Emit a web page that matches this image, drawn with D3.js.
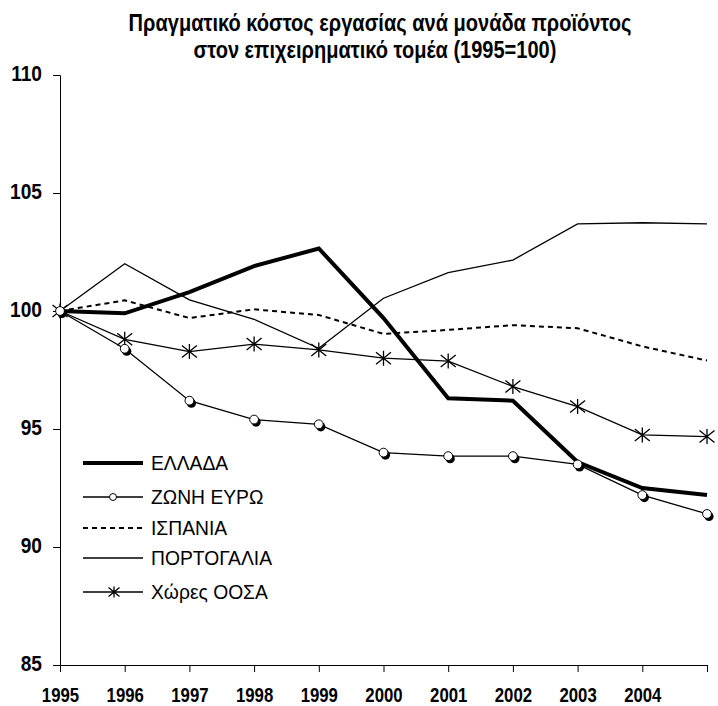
<!DOCTYPE html>
<html>
<head>
<meta charset="utf-8">
<script src="https://cdn.jsdelivr.net/npm/d3@7"></script>
<style>
  html, body { margin: 0; padding: 0; background: #fff; }
  svg { display: block; }
</style>
</head>
<body>
<div id="chart"></div>
<script>
const years = [1995, 1996, 1997, 1998, 1999, 2000, 2001, 2002, 2003, 2004, 2005];
const yearLabels = ['1995', '1996', '1997', '1998', '1999', '2000', '2001', '2002', '2003', '2004', ''];
const yTicks = [85, 90, 95, 100, 105, 110];

const greece = [100, 99.9, 100.8, 101.9, 102.65, 99.7, 96.3, 96.2, 93.6, 92.5, 92.2];
const euroArea = [100, 98.4, 96.2, 95.4, 95.2, 94.0, 93.85, 93.85, 93.5, 92.2, 91.4];
const spain = [100, 100.45, 99.7, 100.07, 99.83, 99.03, 99.2, 99.4, 99.27, 98.5, 97.9];
const portugal = [100, 102.0, 100.47, 99.65, 98.42, 100.54, 101.63, 102.16, 103.69, 103.74, 103.69];
const oecd = [100, 98.8, 98.28, 98.6, 98.35, 98.0, 97.88, 96.8, 95.95, 94.75, 94.68];

const seriesNames = ['ΕΛΛΑΔΑ', 'ΖΩΝΗ ΕΥΡΩ', 'ΙΣΠΑΝΙΑ', 'ΠΟΡΤΟΓΑΛΙΑ', 'Χώρες ΟΟΣΑ'];
const titleLines = ['Πραγματικό κόστος εργασίας ανά μονάδα προϊόντος', 'στον επιχειρηματικό τομέα (1995=100)'];

const width = 718;
const height = 706;
// no narrow font installed, so bold labels get squeezed horizontally
const bold = '"Liberation Sans", Arial, sans-serif';
const regular = '"Liberation Sans", Arial, sans-serif';

const svg = d3.select('#chart')
  .append('svg')
  .attr('width', width)
  .attr('height', height);

const x = d3.scaleLinear().domain([1995, 2005]).range([60, 707]);
const y = d3.scaleLinear().domain([85, 110]).range([665, 75]);

// Title
const titleX = [380, 375];
svg.append('g')
  .selectAll('text')
  .data(titleLines)
  .join('text')
  .attr('transform', (d, i) => `translate(${titleX[i]},${31 + i * 27}) scale(0.86,1)`)
  .attr('text-anchor', 'middle')
  .attr('font-family', bold)
  .attr('font-weight', 700)
  .attr('font-size', 23.3)
  .attr('fill', '#000')
  .text(d => d);

// Axes
const yAxis = svg.append('g')
  .attr('transform', `translate(${x(1995)},0)`)
  .call(d3.axisLeft(y).tickValues(yTicks).tickSize(7).tickPadding(13.7).tickFormat(d3.format('d')));
yAxis.selectAll('text')
  .attr('transform', 'scale(0.87,1)')
  .attr('dy', '0.26em')
  .attr('font-family', bold)
  .attr('font-weight', 700)
  .attr('font-size', 22)
  .attr('fill', '#000');

const xAxis = svg.append('g')
  .attr('transform', `translate(0,${y(85)})`)
  .call(d3.axisBottom(x).tickValues(years).tickSize(7).tickPadding(15.7).tickFormat((d, i) => yearLabels[i]));
xAxis.selectAll('text')
  .attr('transform', 'scale(0.86,1)')
  .attr('font-family', bold)
  .attr('font-weight', 700)
  .attr('font-size', 19.5)
  .attr('fill', '#000');

svg.selectAll('.domain, .tick line').attr('stroke', '#000').attr('stroke-width', 1);

// Lines
const line = d3.line()
  .x((d, i) => x(years[i]))
  .y(d => y(d));

const plot = svg.append('g');

plot.append('path').datum(spain)
  .attr('d', line).attr('fill', 'none').attr('stroke', '#000')
  .attr('stroke-width', 2).attr('stroke-dasharray', '5,4');

plot.append('path').datum(portugal)
  .attr('d', line).attr('fill', 'none').attr('stroke', '#000')
  .attr('stroke-width', 1.3);

plot.append('path').datum(oecd)
  .attr('d', line).attr('fill', 'none').attr('stroke', '#000')
  .attr('stroke-width', 1.3);

plot.append('path').datum(euroArea)
  .attr('d', line).attr('fill', 'none').attr('stroke', '#000')
  .attr('stroke-width', 1.3);

plot.append('path').datum(greece)
  .attr('d', line).attr('fill', 'none').attr('stroke', '#000')
  .attr('stroke-width', 4).attr('stroke-linejoin', 'miter');

// Asterisk marker
const star = s => `M0,${-s}V${s}M${-s},${-s * 0.8}L${s},${s * 0.8}M${-s},${s * 0.8}L${s},${-s * 0.8}`;

plot.append('g')
  .selectAll('path')
  .data(oecd)
  .join('path')
  .attr('transform', (d, i) => `translate(${x(years[i])},${y(d)})`)
  .attr('d', star(7.5))
  .attr('fill', 'none')
  .attr('stroke', '#000')
  .attr('stroke-width', 1.3);

// Circle markers with shadow
const circles = plot.append('g')
  .selectAll('g')
  .data(euroArea)
  .join('g')
  .attr('transform', (d, i) => `translate(${x(years[i])},${y(d)})`);
circles.append('circle')
  .attr('cx', 2).attr('cy', 2.5).attr('r', 4.6)
  .attr('fill', '#000');
circles.append('circle')
  .attr('r', 4.4)
  .attr('fill', '#fff')
  .attr('stroke', '#000')
  .attr('stroke-width', 1);

// Legend
const legendY = [463, 497, 528, 558, 592];
const legend = svg.append('g')
  .selectAll('g')
  .data(seriesNames)
  .join('g')
  .attr('transform', (d, i) => `translate(83,${legendY[i]})`);

legend.append('line')
  .attr('x1', 0).attr('x2', 60)
  .attr('stroke', '#000')
  .attr('stroke-width', (d, i) => i === 0 ? 4 : (i === 2 ? 2 : 1.3))
  .attr('stroke-dasharray', (d, i) => i === 2 ? '5,4' : null);

legend.filter((d, i) => i === 1).append('circle')
  .attr('cx', 30).attr('r', 3.5)
  .attr('fill', '#fff').attr('stroke', '#000').attr('stroke-width', 1);

legend.filter((d, i) => i === 4).append('path')
  .attr('transform', 'translate(31,0)')
  .attr('d', star(5.5))
  .attr('fill', 'none').attr('stroke', '#000').attr('stroke-width', 1.3);

legend.append('text')
  .attr('x', 68)
  .attr('dy', '0.35em')
  .attr('font-family', regular)
  .attr('font-size', 19.3)
  .attr('fill', '#000')
  .text(d => d);
</script>
</body>
</html>
